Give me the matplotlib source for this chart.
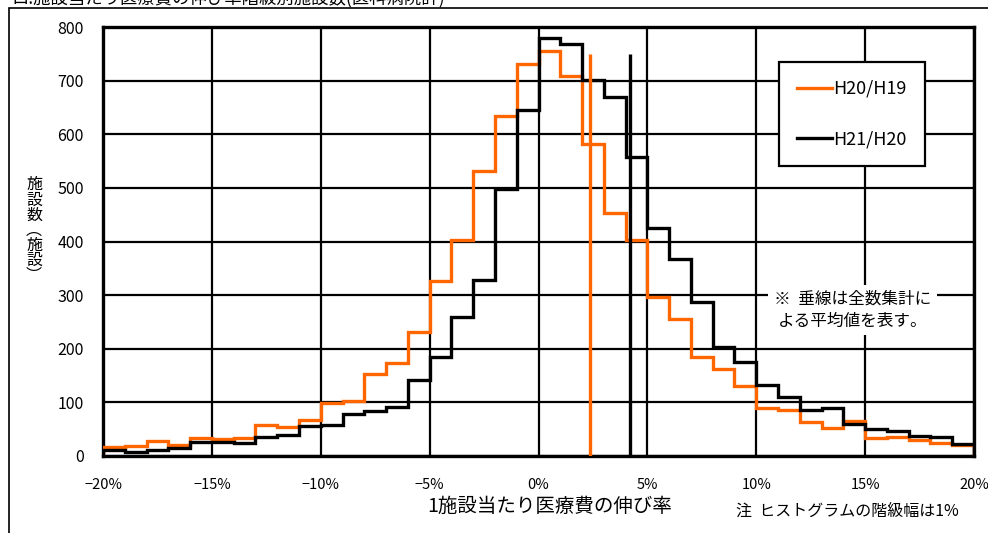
import numpy as np
import matplotlib
matplotlib.use("Agg")
import matplotlib.pyplot as plt
from matplotlib.lines import Line2D

plt.rcParams['font.family'] = ['Noto Sans CJK JP', 'DejaVu Sans']

# histogram class edges (1% width) and counts
edges = list(range(-20, 21))
h20_h19 = [16, 19, 28, 21, 33, 31, 34, 58, 54, 68,
           99, 102, 152, 173, 232, 327, 402, 532, 634, 731,
           755, 709, 582, 454, 403, 297, 256, 185, 162, 131,
           89, 85, 63, 52, 66, 33, 36, 29, 24, 21]
h21_h20 = [11, 8, 12, 14, 27, 27, 24, 36, 39, 55,
           58, 78, 83, 92, 142, 184, 260, 329, 498, 645,
           779, 768, 701, 670, 558, 425, 367, 288, 204, 176,
           133, 110, 85, 89, 60, 50, 47, 37, 35, 22]
# mean growth rates (vertical lines)
mean_h20_h19 = 2.35
mean_h21_h20 = 4.2
mean_line_top = 750

orange = '#FF6600'

fig = plt.figure(figsize=(9.88, 5.33), dpi=100)
ax = fig.add_axes([0.1043, 0.1445, 0.8815, 0.8048])

ax.stairs(h20_h19, edges, color=orange, lw=2.4, zorder=3)
ax.stairs(h21_h20, edges, color='black', lw=2.4, zorder=4)
ax.vlines(mean_h20_h19, 0, mean_line_top, color=orange, lw=2.4, zorder=5)
ax.vlines(mean_h21_h20, 0, mean_line_top, color='black', lw=2.4, zorder=5)

ax.set_xlim(-20, 20)
ax.set_ylim(0, 800)
ax.set_xticks(range(-20, 21, 5))
ax.set_xticklabels([f'\u2212{abs(v)}%' if v < 0 else f'{v}%' for v in range(-20, 21, 5)], fontsize=10.5)
ax.set_yticks(range(0, 801, 100))
ax.tick_params(axis='y', labelsize=11.5, length=0, pad=14)
ax.tick_params(axis='x', length=0, pad=16)
ax.grid(True, color='black', lw=1.6, zorder=1)
ax.set_axisbelow(True)
for s in ax.spines.values():
    s.set_linewidth(2.4)

ax.set_xlabel('1施設当たり医療費の伸び率', fontsize=14)
ax.xaxis.set_label_coords(0.513, -0.093)

# vertical y-axis label
fig.text(34 / 988, 1 - 230 / 533, '施\n設\n数\n︵\n施\n設\n︶', fontsize=11.5,
         ha='center', va='center', linespacing=0.85)

handles = [Line2D([], [], color=orange, lw=2.4), Line2D([], [], color='black', lw=2.4)]
leg = ax.legend(handles, ['H20/H19', 'H21/H20'], loc='upper left',
                bbox_to_anchor=(0.776, 0.918), fontsize=13, frameon=True,
                fancybox=False, edgecolor='black', framealpha=1,
                labelspacing=1.8, handlelength=1.95, handletextpad=0.1,
                borderpad=0.98, borderaxespad=0)
leg.get_frame().set_linewidth(1.6)
leg.set_zorder(6)

ax.text(14.42, 272, '※  垂線は全数集計に\nよる平均値を表す。', fontsize=12,
        ha='center', va='center', linespacing=1.4, zorder=6,
        bbox=dict(facecolor='white', edgecolor='none', pad=4))

fig.text(0.745, 0.04, '注  ヒストグラムの階級幅は1%', fontsize=11.5, ha='left', va='center')
fig.text(0.012, 1.004, 'ロ.施設当たり医療費の伸び率階級別施設数(医科病院計)',
         fontsize=12.5, ha='left', va='center')

border = plt.Rectangle((0.009, -0.1), 1.1, 1.085, transform=fig.transFigure,
                       fill=False, edgecolor='black', lw=1.2)
fig.add_artist(border)

fig.savefig('out.png', dpi=100)
